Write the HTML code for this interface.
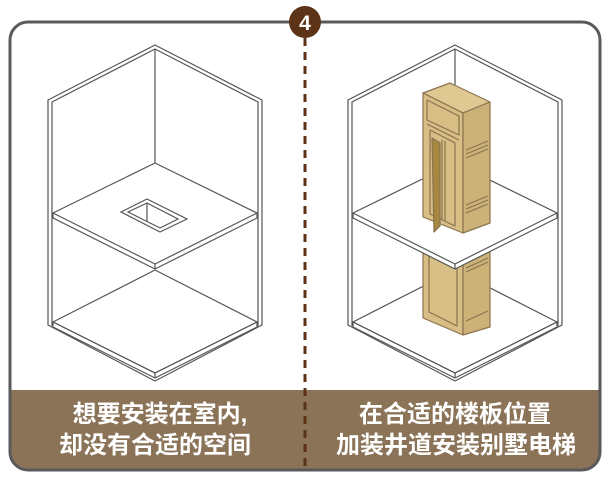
<!DOCTYPE html>
<html><head><meta charset="utf-8"><style>
body{margin:0;background:#fff;width:612px;height:480px;overflow:hidden}
svg{display:block}
text{font-family:"Liberation Sans","Noto Sans CJK SC",sans-serif;font-weight:bold}
</style></head><body>
<svg width="612" height="480" viewBox="0 0 612 480">
<defs>
<clipPath id="fr"><rect x="10" y="22" width="590" height="448" rx="18"/></clipPath>
<g id="slab" fill="none" stroke="#555" stroke-width="1.2">
  <polygon points="53,213 155,163 257,213 257,218 155,269 53,218" fill="#fff"/>
  <line x1="53" y1="213" x2="155" y2="264"/>
  <line x1="155" y1="264" x2="257" y2="213"/>
  <line x1="155" y1="264" x2="155" y2="269"/>
</g>
<g id="room" fill="none" stroke="#555" stroke-width="1.2" stroke-linejoin="miter">
  <polygon points="48,100 155,45 262,100 262,325 155,381 48,325" fill="#fff"/>
  <polyline points="52,326 52,102 155,49 258,102 258,326"/>
  <line x1="155" y1="49" x2="155" y2="165"/>
  <line x1="53" y1="322" x2="155" y2="270"/>
  <line x1="257" y1="322" x2="155" y2="270"/>
  <polygon points="53,322 155,373 257,322 257,327 155,378 53,327" fill="#fff"/>
  <line x1="53" y1="322" x2="155" y2="373"/>
  <line x1="155" y1="373" x2="257" y2="322"/>
  <line x1="155" y1="373" x2="155" y2="378"/>
</g>
</defs>
<g clip-path="url(#fr)">
  <rect x="10" y="390" width="590" height="80" fill="#8B7357"/>
</g>
<rect x="10" y="22" width="590" height="448" rx="18" fill="none" stroke="#5a5a5a" stroke-width="3"/>

<use href="#room"/>
<use href="#slab"/>
<g fill="#fff" stroke="#555" stroke-width="1.2">
  <polygon points="121,212 147,199 187,219 160,232"/>
  <polygon points="128,212 147,203 178,219 160,228"/>
  <line x1="147" y1="203" x2="147" y2="221"/>
</g>

<use href="#room" x="300"/>
<!-- lower elevator part -->
<g stroke="#8a7350" stroke-width="1.2" stroke-linejoin="round">
  <polygon points="423,240 463,240 463,335 423,318" fill="#D8BE84"/>
  <polygon points="463,240 490,240 490,327 463,335" fill="#CDB277"/>
  <polyline points="429,245 429,312 457,326 457,245" fill="none"/>
  <line x1="466" y1="268" x2="488" y2="258"/>
  <line x1="466" y1="272" x2="488" y2="262"/>
  <line x1="466" y1="321" x2="488" y2="311"/>
</g>
<use href="#slab" x="300"/>
<!-- upper elevator part -->
<g stroke="#8a7350" stroke-width="1.2" stroke-linejoin="round">
  <polygon points="423,93 450,83 490,102 463,113" fill="#E0C892"/>
  <polygon points="423,93 463,113 463,233 423,217" fill="#D8BE84"/>
  <polygon points="463,113 490,102 490,223 463,233" fill="#CDB277"/>
  <polyline points="427,100 459,116 459,135 427,120 427,100" fill="none"/>
  <line x1="427" y1="124" x2="459" y2="140"/>
  <polyline points="430,130 455,143 455,226 430,214 430,130" fill="none"/>
  <line x1="442" y1="140" x2="442" y2="220"/>
  <line x1="445" y1="141" x2="445" y2="221"/>
  <polygon points="432,138 440,143 440,226 434,232" fill="#A8873F"/>
  <line x1="466" y1="150" x2="488" y2="141"/>
  <line x1="466" y1="154" x2="488" y2="145"/>
  <line x1="466" y1="158" x2="488" y2="149"/>
  <line x1="466" y1="205" x2="488" y2="196"/>
  <line x1="466" y1="209" x2="488" y2="200"/>
  <line x1="466" y1="213" x2="488" y2="204"/>
</g>

<line x1="305" y1="38" x2="305" y2="470" stroke="#5C3317" stroke-width="3" stroke-dasharray="8,6"/>
<circle cx="305" cy="22" r="16" fill="#5C3317"/>
<text x="305" y="30" font-size="21" fill="#fff" text-anchor="middle">4</text>

<g fill="#fff" font-size="24" text-anchor="middle">
  <text x="160" y="422">想要安装在室内,</text>
  <text x="155" y="453">却没有合适的空间</text>
  <text x="455" y="422">在合适的楼板位置</text>
  <text x="456" y="453">加装井道安装别墅电梯</text>
</g>
</svg>
</body></html>
